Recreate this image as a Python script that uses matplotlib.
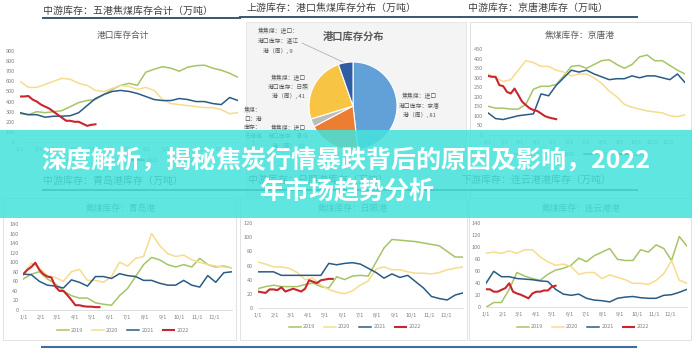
import numpy as np
import matplotlib.pyplot as plt
from matplotlib.patches import Rectangle
from matplotlib.lines import Line2D

plt.rcParams['font.family'] = ['Noto Sans CJK SC', 'DejaVu Sans']

W, H = 692, 349

years = ['2019', '2020', '2021', '2022']
colors = {'2019': '#a6c466', '2020': '#f6dc8e', '2021': '#2a5b84', '2022': '#c8262d'}

# full years sampled every 2 weeks, 2022 weekly (万吨)
wugang = {
    '2019': [280, 270, 300, 290, 300, 310, 350, 390, 410, 420, 470, 520, 560, 580, 560, 690, 720, 745, 730, 700, 740, 755, 760, 730, 710, 680, 640],
    '2020': [600, 540, 540, 570, 600, 630, 620, 580, 560, 510, 500, 530, 560, 550, 520, 540, 510, 420, 380, 370, 360, 350, 340, 340, 320, 280, 290],
    '2021': [290, 270, 270, 245, 255, 255, 260, 290, 360, 430, 470, 500, 510, 500, 480, 450, 420, 410, 410, 430, 420, 400, 400, 380, 370, 440, 410],
    '2022': [450, 450, 455, 420, 400, 370, 350, 330, 300, 270, 240, 210, 210, 200, 200, 180, 160, 170, 175],
}
jingtang = {
    '2019': [150, 140, 140, 135, 135, 160, 240, 255, 255, 265, 310, 360, 365, 350, 370, 390, 395, 370, 350, 370, 410, 420, 390, 390, 365, 340, 320],
    '2020': [320, 300, 280, 290, 340, 390, 380, 360, 360, 340, 330, 310, 320, 320, 300, 270, 230, 200, 160, 145, 135, 125, 120, 115, 100, 95, 105],
    '2021': [115, 85, 80, 90, 100, 105, 110, 215, 205, 260, 300, 340, 330, 340, 320, 305, 290, 295, 295, 310, 300, 310, 310, 300, 290, 320, 275],
    '2022': [310, 305, 305, 261, 256, 226, 217, 243, 209, 174, 156, 139, 130, 125, 112, 98, 91, 86, 82],
}
qingdao = {
    '2019': [65, 75, 80, 65, 55, 40, 30, 25, 25, 15, 12, 10, 30, 45, 70, 95, 110, 105, 95, 90, 95, 90, 108, 95, 90, 92, 88],
    '2020': [75, 98, 88, 72, 68, 60, 80, 85, 62, 62, 58, 70, 100, 92, 108, 112, 160, 135, 118, 112, 115, 105, 100, 95, 92, 90, 88],
    '2021': [75, 74, 60, 52, 50, 46, 63, 58, 50, 70, 70, 66, 76, 72, 70, 62, 62, 56, 52, 52, 62, 52, 48, 72, 58, 78, 80],
    '2022': [75, 84, 90, 99, 84, 75, 70, 68, 49, 40, 40, 31, 21, 10, 10, 8, 7, 7, 6, 6],
}
rizhao = {
    '2019': [27, 30, 32, 30, 30, 30, 33, 35, 30, 28, 44, 40, 45, 46, 45, 65, 85, 97, 96, 95, 94, 92, 90, 88, 80, 72, 72],
    '2020': [65, 62, 58, 58, 56, 50, 40, 42, 32, 26, 22, 20, 24, 32, 38, 55, 58, 54, 54, 51, 49, 49, 48, 50, 54, 56, 58],
    '2021': [51, 51, 51, 46, 46, 46, 46, 46, 46, 63, 61, 63, 64, 62, 56, 50, 42, 48, 43, 46, 37, 28, 16, 13, 11, 18, 21],
    '2022': [23, 22, 21, 26, 26, 25, 29, 23, 25, 27, 25, 23, 27, 39, 37, 35, 39, 40, 41, 41],
}
lianyungang = {
    '2019': [0, 8, 8, 30, 58, 52, 48, 45, 55, 62, 65, 70, 82, 76, 86, 92, 98, 80, 78, 78, 96, 92, 104, 98, 78, 118, 102],
    '2020': [90, 92, 90, 94, 90, 96, 96, 84, 76, 70, 72, 68, 55, 58, 58, 48, 54, 50, 46, 40, 40, 38, 45, 56, 78, 45, 40],
    '2021': [40, 60, 51, 51, 48, 47, 46, 44, 43, 30, 22, 20, 22, 15, 12, 11, 9, 15, 17, 18, 16, 15, 15, 20, 21, 25, 30],
    '2022': [30, 30, 26, 26, 29, 32, 40, 26, 23, 21, 18, 15, 23, 26, 26, 28, 28, 34, 36],
}

# port share pie (clockwise from top)
pie_ports = ['京唐', '青岛', '连云港', '日照', '湛江']
pie_vals = [81, 32, 5, 41, 9]
pie_colors = ['#62a0d8', '#ed7d31', '#bdbdbd', '#f7c443', '#2f5ca3']

month_days = [0, 31, 59, 90, 120, 151, 181, 212, 243, 273, 304, 334]
month_labels = ['%d/1' % m for m in range(1, 13)]
weeks_full = np.arange(0, 53, 2)

fig = plt.figure(figsize=(W / 100, H / 100), dpi=100)
fig.patch.set_facecolor('white')


def box(x0, x1, ytop, ybot):
    return [x0 / W, 1 - ybot / H, (x1 - x0) / W, (ybot - ytop) / H]


def ftext(x, y, s, **kw):
    return fig.text(x / W, 1 - y / H, s, **kw)


def fline(x0, y0, x1, y1, **kw):
    fig.add_artist(Line2D([x0 / W, x1 / W], [1 - y0 / H, 1 - y1 / H], transform=fig.transFigure, **kw))


def frame(x0, x1, ytop, ybot, fc='white', ec='#e2e2e2'):
    fig.patches.append(Rectangle((x0 / W, 1 - ybot / H), (x1 - x0) / W, (ybot - ytop) / H,
                                 transform=fig.transFigure, facecolor=fc, edgecolor=ec, lw=0.7, zorder=-1))


def line_chart(data, ymax, ystep, x0, x1, ytop, ybot, leg=None):
    ax = fig.add_axes(box(x0, x1, ytop, ybot))
    ax.set_facecolor('none')
    for yr in years:
        vals = data[yr]
        xs = np.arange(len(vals)) if yr == '2022' else weeks_full
        ax.plot(xs, vals, color=colors[yr], lw=1.5 if yr == '2022' else 1.1, label=yr,
                solid_joinstyle='round')
    ax.set_xlim(0, 52)
    ax.set_ylim(0, ymax)
    ax.set_yticks(np.arange(0, ymax + 1, ystep))
    ax.set_xticks(np.array(month_days) / 7)
    ax.set_xticklabels(month_labels)
    ax.tick_params(length=0, labelsize=4, labelcolor='#808080', pad=3.5)
    for s in ['top', 'right', 'left']:
        ax.spines[s].set_visible(False)
    ax.spines['bottom'].set_color('#d9d9d9')
    ax.spines['bottom'].set_linewidth(0.6)
    if leg:
        ax.legend(ncol=4, loc='center', bbox_to_anchor=(leg[0] / W, 1 - leg[1] / H),
                  bbox_transform=fig.transFigure, frameon=False, fontsize=4,
                  handlelength=2.1, handletextpad=0.4, columnspacing=1.6, labelcolor='#808080')
    return ax


# panel backgrounds
frame(246, 466, 22, 215, fc='#f4f4f4', ec='#e6e6e6')
frame(470, 691, 22, 215)
frame(3, 236, 198, 340)
frame(240, 467, 198, 340)
frame(469, 691, 198, 340)

# section headers
hdr = dict(fontsize=7.2, color='#404040', va='center', ha='left')
ftext(43, 11, '中游库存：五港焦煤库存合计（万吨）', **hdr)
ftext(247, 8, '上游库存：港口焦煤库存分布（万吨）', **hdr)
ftext(468, 8, '中游库存：京唐港库存（万吨）', **hdr)
ftext(43, 181, '中游库存：青岛港库存（万吨）', **hdr)
ftext(248, 180, '中游库存：日照港库存（万吨）', **hdr)
ftext(462, 180, '下游库存：连云港港库存（万吨）', **hdr)
ul = dict(color='#3b5670', lw=1.4)
fline(43, 18.3, 240, 18.3, **ul)
fline(240, 16.7, 460, 16.7, **ul)
fline(460, 16.7, 637, 16.7, **ul)
fline(43, 190, 637, 190, **ul)
fline(42, 347, 636, 347, color='#3d6e9c', lw=1.5)

# chart titles
ttl = dict(fontsize=6.3, color='#595959', ha='center', va='center')
ftext(123, 35, '港口库存合计', **ttl)
ftext(580, 35, '焦煤库存：京唐港', **ttl)
ftext(121, 208, '焦煤库存：青岛港', **ttl)
ftext(353, 208, '焦煤库存：日照港', **ttl)
ftext(581, 208, '焦煤库存：连云港港', **ttl)

line_chart(wugang, 900, 100, 20, 238, 51, 142, leg=(128, 160))
line_chart(jingtang, 450, 50, 488, 685, 49.3, 134.7, leg=(580, 154))
line_chart(qingdao, 180, 20, 23.3, 231.8, 224, 310, leg=(123, 330))
line_chart(rizhao, 120, 20, 257.7, 463, 223.3, 307.7, leg=(355, 327))
line_chart(lianyungang, 140, 20, 486, 687, 223.3, 307.3, leg=(583, 327))

# pie of port stocks
axp = fig.add_axes(box(309, 397, 62, 150))
axp.pie(pie_vals, colors=pie_colors, startangle=90, counterclock=False,
        wedgeprops=dict(edgecolor='white', linewidth=0.8))
axp.set_xlim(-1, 1)
axp.set_ylim(-1, 1)
ftext(353, 37, '港口库存分布', fontsize=7.4, fontweight='bold', color='#595959', ha='center', va='center')

pv = dict(zip(pie_ports, pie_vals))
pl = dict(fontsize=4.2, color='#595959', ha='center', va='center', linespacing=1.7)
ftext(278, 41, f'焦焦煤：进口：\n港口库存：湛江\n港（周）, {pv["湛江"]}', **pl)
ftext(288, 87, f'焦焦煤：进口\n港口库存：日照\n港（周）, {pv["日照"]}', **pl)
ftext(419, 105, f'焦焦煤：进口\n港口库存：京唐\n港（周）, {pv["京唐"]}', **pl)
ftext(253, 127, f'焦煤：\n口：港\n库存：\n云港港\n{pv["连云港"]}', **pl)
ftext(288, 137, f'焦焦煤：进口\n港口库存：青岛\n港（周）, {pv["青岛"]}', **pl)
fline(302, 43, 343, 62, color='#a6a6a6', lw=0.5)

# headline banner
fig.patches.append(Rectangle((0, 1 - 218 / H), 1, 88 / H, transform=fig.transFigure,
                             facecolor='#45e2dc', edgecolor='none', alpha=0.86, zorder=20))
bt = dict(fontsize=18, fontweight='bold', color='white', ha='center', va='center', zorder=21)
ftext(346, 160, '深度解析，揭秘焦炭行情暴跌背后的原因及影响，2022', **bt)
ftext(347, 192, '年市场趋势分析', **bt)

fig.savefig('out.png', dpi=100)
